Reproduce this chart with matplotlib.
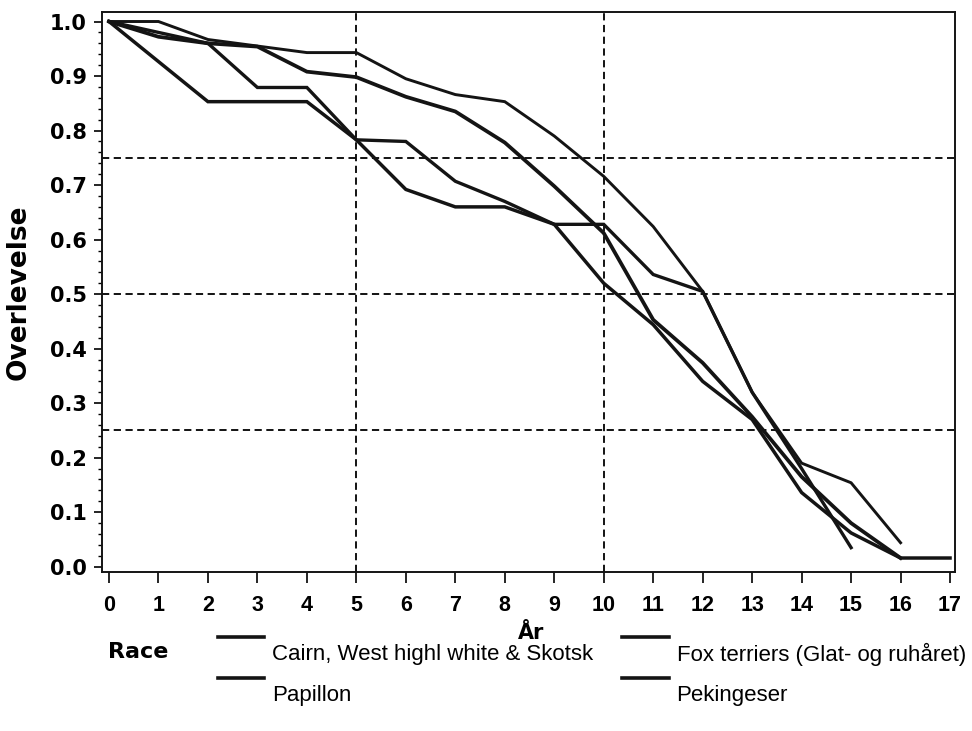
import matplotlib
matplotlib.use("Agg")
import matplotlib.pyplot as plt
from matplotlib.lines import Line2D
from matplotlib.ticker import MultipleLocator

plt.rcParams["font.family"] = ["Liberation Sans", "DejaVu Sans"]

# survival curves (year -> share still alive)
CAIRN_YEARS = [0, 1, 2, 3, 4, 5, 6, 7, 8, 9, 10, 11, 12, 13, 14, 15, 16]
CAIRN_SURV = [1.0, 1.0, 0.967, 0.955, 0.943, 0.943, 0.895, 0.866, 0.853,
              0.79, 0.716, 0.624, 0.505, 0.32, 0.19, 0.154, 0.044]

FOX_YEARS = [0, 1, 2, 3, 4, 5, 6, 7, 8, 9, 10, 11, 12, 13, 14, 15, 16]
FOX_SURV = [1.0, 0.972, 0.96, 0.954, 0.908, 0.898, 0.862, 0.835, 0.778,
            0.698, 0.612, 0.453, 0.374, 0.275, 0.165, 0.08, 0.016]

PAPILLON_YEARS = [0, 1, 2, 3, 4, 5, 6, 7, 8, 9, 10, 11, 12, 13, 14, 15]
PAPILLON_SURV = [1.0, 0.98, 0.96, 0.879, 0.879, 0.783, 0.78, 0.707, 0.67,
                 0.628, 0.628, 0.536, 0.505, 0.32, 0.18, 0.035]

PEKING_YEARS = [0, 2, 3, 4, 5, 6, 7, 8, 9, 10, 11, 12, 13, 14, 15, 16, 17]
PEKING_SURV = [1.0, 0.853, 0.853, 0.853, 0.783, 0.692, 0.66, 0.66, 0.628,
               0.52, 0.444, 0.34, 0.27, 0.136, 0.062, 0.016, 0.016]

BREEDS = ["Cairn, West highl white & Skotsk", "Fox terriers (Glat- og ruhåret)",
          "Papillon", "Pekingeser"]

REF_YEARS = [5, 10]
REF_SURV = [0.25, 0.5, 0.75]

X_TICKS = list(range(0, 18))
Y_TICKS = [0.0, 0.1, 0.2, 0.3, 0.4, 0.5, 0.6, 0.7, 0.8, 0.9, 1.0]

INK = "#141414"
BOLD_FAMILY = ["DejaVu Sans"]

fig = plt.figure(figsize=(9.72, 7.31), dpi=100)
ax = fig.add_axes([0.105, 0.218, 0.8775, 0.766])

series = [
    (CAIRN_YEARS, CAIRN_SURV, 2.1),
    (FOX_YEARS, FOX_SURV, 2.7),
    (PAPILLON_YEARS, PAPILLON_SURV, 2.4),
    (PEKING_YEARS, PEKING_SURV, 2.5),
]
for xs, ys, lw in series:
    ax.plot(xs, ys, color=INK, lw=lw, solid_joinstyle="miter", zorder=3)

for x in REF_YEARS:
    ax.axvline(x, color="black", lw=1.3, ls=(0, (4, 2.5)), zorder=2)
for y in REF_SURV:
    ax.axhline(y, color="black", lw=1.3, ls=(0, (4, 2.5)), zorder=2)

ax.set_xlim(-0.14, 17.1)
ax.set_ylim(-0.009, 1.018)
ax.set_xticks(X_TICKS)
ax.set_yticks(Y_TICKS)
ax.set_yticklabels([f"{v:.1f}" for v in Y_TICKS])
ax.yaxis.set_minor_locator(MultipleLocator(0.02))
ax.tick_params(axis="x", length=8, width=1.2, pad=9, labelsize=15.5)
ax.tick_params(axis="y", which="major", length=6, width=1.2, pad=5, labelsize=15)
ax.tick_params(axis="y", which="minor", length=3, width=1.0)
for lab in ax.get_xticklabels():
    lab.set_fontweight("bold")
for lab in ax.get_yticklabels():
    lab.set_fontweight("bold")
    lab.set_family(BOLD_FAMILY)
for sp in ax.spines.values():
    sp.set_linewidth(1.4)
    sp.set_color(INK)

fig.text(0.019, 0.60, "Overlevelse", rotation=90, ha="center", va="center",
         fontsize=19, fontweight="bold", family=BOLD_FAMILY)
fig.text(0.546, 0.134, "År", ha="center", va="center", fontsize=15,
         fontweight="bold", family=BOLD_FAMILY)

# legend drawn by hand: handle sits above-left of its label
fig.text(0.111, 0.108, "Race", ha="left", va="center", fontsize=16,
         fontweight="bold", family=BOLD_FAMILY)
cols = [0.224, 0.64]
rows = [0.128, 0.072]
slots = [(0, 0), (1, 0), (0, 1), (1, 1)]
for name, (c, r) in zip(BREEDS, slots):
    x0 = cols[c]
    y0 = rows[r]
    fig.add_artist(Line2D([x0, x0 + 0.048], [y0, y0], color=INK, lw=2.6,
                          transform=fig.transFigure))
    fig.text(x0 + 0.056, y0 - 0.023, name, ha="left", va="center", fontsize=16)

fig.savefig("out.png", dpi=100)
